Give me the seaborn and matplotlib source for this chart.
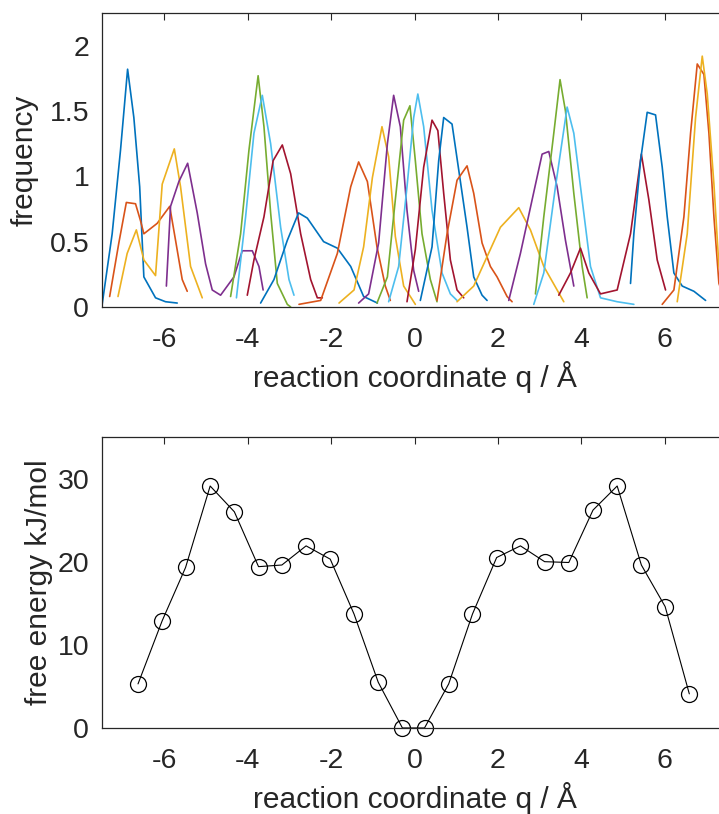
import numpy as np
import pandas as pd
import matplotlib
matplotlib.use("Agg")
import matplotlib.pyplot as plt
import seaborn as sns

# ---------------- data: umbrella-window histograms (q in Å, frequency) -------------
w01_q = [-7.49, -7.25, -7.05, -6.88, -6.73, -6.59, -6.49, -6.21, -5.97, -5.69]
w01_f = [0.02, 0.56, 1.20, 1.82, 1.45, 0.92, 0.23, 0.07, 0.04, 0.03]
w02_q = [-7.31, -7.09, -6.91, -6.69, -6.57, -6.49, -6.17, -5.87, -5.73, -5.57, -5.45]
w02_f = [0.08, 0.49, 0.80, 0.79, 0.66, 0.56, 0.64, 0.77, 0.51, 0.21, 0.12]
w03_q = [-7.11, -6.89, -6.67, -6.49, -6.21, -6.05, -5.76, -5.61, -5.37, -5.09]
w03_f = [0.08, 0.41, 0.59, 0.36, 0.24, 0.94, 1.21, 0.92, 0.31, 0.07]
w04_q = [-5.95, -5.85, -5.65, -5.44, -5.21, -5.01, -4.85, -4.65, -4.33, -4.13, -3.89, -3.73, -3.63]
w04_f = [0.16, 0.77, 0.96, 1.10, 0.72, 0.33, 0.13, 0.09, 0.23, 0.43, 0.43, 0.31, 0.13]
w05_q = [-4.41, -4.17, -3.97, -3.75, -3.61, -3.45, -3.29, -3.05, -2.97]
w05_f = [0.08, 0.56, 1.20, 1.77, 1.38, 0.72, 0.18, 0.02, 0.00]
w06_q = [-4.27, -4.05, -3.85, -3.65, -3.45, -3.21, -3.01, -2.89]
w06_f = [0.07, 0.69, 1.33, 1.62, 1.25, 0.61, 0.21, 0.09]
w07_q = [-4.01, -3.85, -3.61, -3.39, -3.17, -2.97, -2.73, -2.49, -2.33, -2.21]
w07_f = [0.09, 0.36, 0.69, 1.12, 1.24, 1.02, 0.56, 0.21, 0.07, 0.07]
w08_q = [-3.69, -3.37, -3.05, -2.78, -2.57, -2.18, -1.85, -1.53, -1.22, -0.89]
w08_f = [0.03, 0.21, 0.51, 0.72, 0.68, 0.50, 0.45, 0.31, 0.08, 0.03]
w09_q = [-2.77, -2.25, -1.85, -1.53, -1.34, -1.13, -0.90, -0.70, -0.58]
w09_f = [0.02, 0.05, 0.41, 0.92, 1.11, 0.96, 0.46, 0.16, 0.05]
w10_q = [-1.81, -1.45, -1.22, -1.01, -0.78, -0.62, -0.46, -0.26, 0.02]
w10_f = [0.03, 0.13, 0.46, 0.99, 1.38, 1.15, 0.54, 0.16, 0.02]
w11_q = [-1.34, -1.10, -0.86, -0.65, -0.50, -0.34, -0.18, -0.02, 0.10]
w11_f = [0.03, 0.10, 0.49, 1.25, 1.62, 1.38, 0.74, 0.28, 0.12]
w12_q = [-0.90, -0.65, -0.46, -0.26, -0.11, 0.02, 0.18, 0.38, 0.54]
w12_f = [0.03, 0.23, 0.82, 1.43, 1.54, 1.12, 0.56, 0.21, 0.04]
w13_q = [-0.62, -0.38, -0.18, -0.02, 0.08, 0.22, 0.42, 0.66, 0.86, 1.02]
w13_f = [0.04, 0.31, 0.92, 1.45, 1.63, 1.38, 0.74, 0.26, 0.10, 0.05]
w14_q = [-0.18, 0.02, 0.22, 0.42, 0.56, 0.70, 0.86, 1.02, 1.18]
w14_f = [0.04, 0.44, 1.07, 1.43, 1.35, 0.87, 0.36, 0.13, 0.07]
w15_q = [0.14, 0.42, 0.58, 0.70, 0.90, 1.06, 1.26, 1.42, 1.62, 1.74]
w15_f = [0.05, 0.46, 1.12, 1.45, 1.40, 1.05, 0.61, 0.23, 0.09, 0.05]
w16_q = [0.54, 0.78, 1.02, 1.26, 1.42, 1.62, 1.82, 1.98, 2.22, 2.34]
w16_f = [0.05, 0.56, 0.97, 1.08, 0.87, 0.49, 0.31, 0.23, 0.08, 0.04]
w17_q = [1.02, 1.42, 2.06, 2.50, 2.78, 3.10, 3.42, 3.58]
w17_f = [0.04, 0.16, 0.61, 0.76, 0.59, 0.31, 0.13, 0.04]
w18_q = [2.26, 2.54, 2.82, 3.06, 3.22, 3.42, 3.62, 3.78, 3.82]
w18_f = [0.05, 0.41, 0.82, 1.17, 1.19, 0.92, 0.51, 0.23, 0.16]
w19_q = [2.90, 3.10, 3.34, 3.49, 3.62, 3.82, 4.02, 4.14]
w19_f = [0.10, 0.69, 1.33, 1.74, 1.50, 0.87, 0.31, 0.07]
w20_q = [2.86, 3.10, 3.38, 3.66, 3.82, 4.02, 4.22, 4.46, 4.86, 5.26]
w20_f = [0.02, 0.26, 0.92, 1.53, 1.33, 0.82, 0.31, 0.07, 0.04, 0.02]
w21_q = [3.46, 3.74, 3.98, 4.18, 4.46, 4.86, 5.18, 5.44, 5.62, 5.82, 6.02]
w21_f = [0.09, 0.26, 0.45, 0.26, 0.10, 0.13, 0.56, 1.17, 0.82, 0.36, 0.13]
w22_q = [5.18, 5.26, 5.42, 5.58, 5.78, 5.94, 6.06, 6.22, 6.42, 6.70, 6.98]
w22_f = [0.18, 0.56, 1.12, 1.49, 1.47, 1.07, 0.69, 0.26, 0.16, 0.12, 0.05]
w23_q = [5.94, 6.22, 6.46, 6.62, 6.78, 6.94, 7.06, 7.18, 7.30, 7.45]
w23_f = [0.02, 0.13, 0.69, 1.33, 1.86, 1.78, 1.33, 0.69, 0.18, 0.05]
w24_q = [6.30, 6.54, 6.74, 6.90, 7.02, 7.18, 7.30, 7.45]
w24_f = [0.04, 0.56, 1.45, 1.92, 1.63, 0.94, 0.31, 0.08]

# ---------------- data: free energy profile -------------
fe_q = [-6.63, -6.05, -5.49, -4.90, -4.32, -3.74, -3.18, -2.60, -2.02, -1.45, -0.87, -0.29,
        0.24, 0.82, 1.39, 1.97, 2.54, 3.12, 3.70, 4.28, 4.86, 5.44, 6.01, 6.59]
fe_E = [5.3, 12.9, 19.3, 29.1, 26.0, 19.4, 19.6, 21.9, 20.3, 13.7, 5.5, 0.0,
        0.0, 5.3, 13.7, 20.5, 21.9, 20.0, 19.9, 26.2, 29.1, 19.6, 14.6, 4.1]

x_ticks = [-6, -4, -2, 0, 2, 4, 6]
y_ticks_top = [0, 0.5, 1, 1.5, 2]
y_tick_labels_top = ["0", "0.5", "1", "1.5", "2"]
y_ticks_bot = [0, 10, 20, 30]

matlab_colors = ["#0072BD", "#D95319", "#EDB120", "#7E2F8E", "#77AC30", "#4DBEEE", "#A2142F"]

# ---------------- build long-form table -------------
windows = [(w01_q, w01_f), (w02_q, w02_f), (w03_q, w03_f), (w04_q, w04_f), (w05_q, w05_f),
           (w06_q, w06_f), (w07_q, w07_f), (w08_q, w08_f), (w09_q, w09_f), (w10_q, w10_f),
           (w11_q, w11_f), (w12_q, w12_f), (w13_q, w13_f), (w14_q, w14_f), (w15_q, w15_f),
           (w16_q, w16_f), (w17_q, w17_f), (w18_q, w18_f), (w19_q, w19_f), (w20_q, w20_f),
           (w21_q, w21_f), (w22_q, w22_f), (w23_q, w23_f), (w24_q, w24_f)]
rows = []
for i, (qs, fs) in enumerate(windows):
    for q, f in zip(qs, fs):
        rows.append({"window": i, "q": q, "f": f})
hist_df = pd.DataFrame(rows)
palette = [matlab_colors[i % 7] for i in range(len(windows))]
fe_df = pd.DataFrame({"q": fe_q, "E": fe_E})

# ---------------- style -------------
sns.set_theme(style="white")
plt.rcParams["font.family"] = ["Liberation Sans", "DejaVu Sans"]
dark = "#262626"
fs_tick = 20.5
fs_label = 21.5

fig = plt.figure(figsize=(7.19, 8.14), dpi=100)
ax1 = fig.add_axes([0.1415, 0.6229, 0.870, 0.3611])
ax2 = fig.add_axes([0.1415, 0.1057, 0.870, 0.3575])

sns.lineplot(data=hist_df, x="q", y="f", hue="window", palette=palette, sort=False,
             estimator=None, legend=False, linewidth=1.2, ax=ax1)
sns.lineplot(data=fe_df, x="q", y="E", sort=False, estimator=None, color="black",
             linewidth=0.8, marker="o", markersize=11.5, markerfacecolor="none",
             markeredgecolor="black", markeredgewidth=0.9, ax=ax2)

for ax in (ax1, ax2):
    ax.set_xlim(-7.5, 7.5)
    ax.set_xticks(x_ticks)
    ax.set_xticklabels([str(t) for t in x_ticks])
    ax.tick_params(direction="in", top=True, right=True, length=5, width=0.8,
                   colors=dark, labelsize=fs_tick)
    ax.tick_params(axis="x", pad=14.5)
    ax.tick_params(axis="y", pad=9)
    for s in ax.spines.values():
        s.set_color(dark)
        s.set_linewidth(0.9)
    ax.set_xlabel("reaction coordinate q / Å", fontsize=fs_label, color=dark, labelpad=6)

ax1.set_ylim(0, 2.25)
ax1.set_yticks(y_ticks_top)
ax1.set_yticklabels(y_tick_labels_top)
ax1.set_ylabel("frequency", fontsize=fs_label, color=dark, labelpad=8)

ax2.set_ylim(0, 35)
ax2.set_yticks(y_ticks_bot)
ax2.set_ylabel("free energy kJ/mol", fontsize=fs_label, color=dark, labelpad=3)
for ln in ax2.lines:
    ln.set_clip_on(False)

fig.savefig("out.png", dpi=100)
